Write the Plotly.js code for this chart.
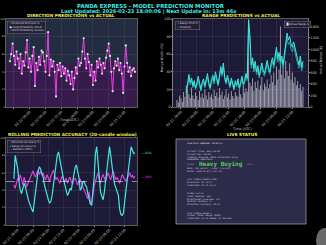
<!DOCTYPE html>
<html><head><meta charset="utf-8">
<script src="https://cdn.plot.ly/plotly-3.0.1.min.js"></script>
<style>html,body{margin:0;padding:0;background:#000;overflow:hidden}#chart{width:326px;height:245px}</style>
</head><body><div id="chart"></div>
<script>
// ---------- DATA ----------
const startTime = Date.UTC(2026,1,21,16,30);
const stepMs = 1800000;      // 30-min candles
const nPoints = 96;

const directionPct = [52,60,72,58,48,63,55,44,60,38,52,47,62,76,45,55,40,58,68,24,50,42,57,48,64,62,52,40,58,85,36,54,46,52,40,12,48,42,50,35,46,38,44,30,41,36,26,40,20,33,45,38,55,47,50,63,78,55,44,60,51,36,48,25,40,30,52,45,55,48,38,50,44,56,64,72,58,40,18,44,52,47,55,42,50,38,16,46,70,50,40,45,35,42,44,40];

const rangePredPct = [null,null,null,null,null,null,null,16,30,37,28,33,24,30,22,27,35,25,20,28,32,24,30,38,27,22,31,36,29,40,33,26,35,46,38,50,34,28,36,30,24,33,27,21,30,25,32,22,28,35,26,30,38,33,99,82,48,56,44,52,40,47,36,44,50,42,38,46,53,45,40,50,56,48,60,68,55,62,52,58,48,62,70,84,76,80,72,68,74,66,60,54,48,58,45,52];
const volatilityPct = [null,null,null,null,null,null,null,14,26,33,25,30,22,27,20,24,31,23,18,25,29,22,27,34,25,20,28,33,26,36,30,24,32,42,35,45,31,26,33,27,22,30,25,19,27,23,29,20,25,32,24,27,35,30,90,75,44,52,40,48,37,43,33,40,46,38,35,42,49,41,37,46,52,44,55,63,51,57,48,54,44,57,65,78,71,74,66,63,69,61,55,50,44,53,41,48];
const actualRangeUsd = [120,80,200,150,90,260,180,380,300,220,160,340,200,140,250,190,120,280,170,230,150,310,200,130,260,180,220,140,300,190,250,160,330,210,270,140,200,310,170,240,130,280,190,150,260,200,180,300,220,160,380,250,320,270,1520,420,360,500,280,440,330,460,300,380,520,290,410,350,480,320,400,550,430,600,380,700,480,650,1400,560,720,500,800,620,540,760,480,600,420,520,380,450,330,400,280,350];

const rangeAccPct = [53,80,72,65,50,40,36,42,48,44,36,31,26,21,18,15,28,40,55,62,67,64,59,55,46,40,33,29,25,27,34,45,62,72,80,84,75,68,58,52,46,40,34,37,42,40,50,59,66,69,62,55,40,42,49,50,46,44,36,29,24,23,40,55,82,90,72,50,38,33,29,38,52,62,78,90,80,66,56,47,42,38,34,18,12,11,14,28,40,52,66,78,90,86,82,83];
const dirAccPct = [46,42,48,54,50,58,52,46,55,50,44,48,52,56,60,62,58,55,60,63,58,62,57,60,55,52,58,54,50,56,60,63,58,52,55,50,48,53,56,52,50,54,48,52,55,50,47,52,54,50,46,50,53,48,44,40,36,32,30,38,27,23,35,45,50,56,60,52,48,55,58,54,50,56,60,55,52,58,62,56,52,55,50,48,53,58,55,52,50,54,58,60,55,57,54,56];
const randomBaseline = 50;

const pctTicks = [0,20,40,60,80,100];
const usdTicks = [0,200,400,600,800,1000,1200,1400];

const statusLines = [
 "LIVE DATA Updated: 18:01:17","","",
 "Current Price: $69,758.00",
 "Current RSI: 48.00",
 "Trading: OFFLINE (data collection only)",
 "ORDERBOOK IMBALANCE:",
 "","",
 "Bids: 101.58 BTC | Asks: 1.42 BTC",
 "Delta: +100.16 BTC (+97.2%)","","",
 "LAST CANDLE PREDICTION:",
 "Direction: UP (67%)",
 "Predicted: UP of 51.5%","","",
 "SIGNAL STATS:",
 "Total Candles: 381",
 "Directional Coverage: 471",
 "Neutral Candles: 1",
 "Direction Accuracy: 49.3%","","",
 "LAST CANDLE RESULT:",
 "Actual: $1067 Range ($69M)",
 "Predicted: 51.5% Range: OF $51,051"
];
const imbalanceLabel = "Heavy Buying";

// ---------- HELPERS ----------
const W=326,H=245;
const px = x => x/W, py = y => 1 - y/H;
function fmt(ms){const d=new Date(ms);const p=n=>String(n).padStart(2,'0');
 return d.getUTCFullYear()+'-'+p(d.getUTCMonth()+1)+'-'+p(d.getUTCDate())+' '+p(d.getUTCHours())+':'+p(d.getUTCMinutes());}
const times=[];for(let i=0;i<nPoints;i++)times.push(fmt(startTime+i*stepMs));
const endTime = startTime+(nPoints-1)*stepMs;
const hr=3600000;

const CYAN='#40e8e0', TEAL='#1fa8a0', MAG='#e83ee8', YEL='#eeee55', GRID='rgba(255,255,255,0.13)', TXT='#cccccc';
const F='DejaVu Sans', MONO='DejaVu Sans Mono';

function xAx(domain, anchor, range){
 return {domain, anchor, type:'date', range, tickformat:'%m-%d %H:%M', dtick:6*hr, tick0:'2026-02-21 18:00',
   tickangle:-45, tickfont:{size:3.4,color:TXT,family:F}, gridcolor:GRID, gridwidth:0.5, showline:true, mirror:true,
   linecolor:'#999', linewidth:0.6, ticks:'outside', ticklen:1, tickcolor:'#999', zeroline:false, automargin:false};
}
function yAx(domain, anchor, extra){
 return Object.assign({domain, anchor, range:[0,100], tickvals:pctTicks, tickfont:{size:3.4,color:TXT,family:F},
   gridcolor:GRID, gridwidth:0.5, showline:true, mirror:true, linecolor:'#999', linewidth:0.6, ticks:'outside', ticklen:1,
   tickcolor:'#999', zeroline:false, automargin:false}, extra||{});
}
const leftTickFix = {tickfont:{size:2.4,color:TXT,family:F}, ticks:'', ticklabelstandoff:0};

const dTL=[px(6),px(137)], yTop=[py(107),py(19)];
const dTR=[px(173),px(308)];
const yBot=[py(225),py(138)];

const traces=[
 {x:times,y:directionPct,xaxis:'x',yaxis:'y',type:'scatter',mode:'lines+markers',line:{color:MAG,width:1},
  marker:{color:'#c8f5c8',size:2.2,line:{width:0}},hoverinfo:'skip'},
 {x:times,y:actualRangeUsd,xaxis:'x2',yaxis:'y2',type:'bar',marker:{color:'rgba(215,215,225,0.72)',line:{width:0}},width:stepMs*0.7,hoverinfo:'skip'},
 {x:times,y:volatilityPct,xaxis:'x2',yaxis:'y3',type:'scatter',mode:'lines',line:{color:TEAL,width:1},hoverinfo:'skip'},
 {x:times,y:rangePredPct,xaxis:'x2',yaxis:'y3',type:'scatter',mode:'lines',line:{color:CYAN,width:1},hoverinfo:'skip'},
 {x:times,y:dirAccPct,xaxis:'x3',yaxis:'y4',type:'scatter',mode:'lines',line:{color:MAG,width:1.1},hoverinfo:'skip'},
 {x:times,y:rangeAccPct,xaxis:'x3',yaxis:'y4',type:'scatter',mode:'lines',line:{color:CYAN,width:1.2},hoverinfo:'skip'}
];

const ann=[];
function txt(t,x,y,size,color,opts){ann.push(Object.assign({text:t,x:px(x),y:py(y),xref:'paper',yref:'paper',showarrow:false,
 font:{size,color,family:F},xanchor:'center',yanchor:'middle'},opts||{}));}
txt('<b>PANDA EXPRESS - MODEL PREDICTION MONITOR</b>',151,6.3,5.4,CYAN);
txt('<b>Last Updated: 2026-02-23 18:00:06 | Next Update in: 13m 46s</b>',148,11.6,5,CYAN);
txt('<b>DIRECTION PREDICTIONS vs ACTUAL</b>',71,15.4,4.3,YEL);
txt('<b>RANGE PREDICTIONS vs ACTUAL</b>',241,15.4,4.3,YEL);
txt('<b>ROLLING PREDICTION ACCURACY (20-candle window)</b>',72,134.3,4.3,YEL);
txt('<b>LIVE STATUS</b>',242,134.3,4.3,YEL);
txt('Time (UTC)',69,119.5,3.4,TXT);
txt('Time (UTC)',242,129.2,3.4,TXT);
txt('Range Width (%)',162,58,3.4,TXT,{textangle:-90});
txt('Actual Range ($)',321,60,3.4,TXT,{textangle:-90});
// legends
const legOpts={xanchor:'left',yanchor:'top',align:'left',bgcolor:'rgba(35,30,55,0.85)',bordercolor:'#888',borderwidth:0.4,borderpad:1};
txt(`<span style="color:${MAG}">━</span> Predicted Direction %<br><span style="color:#c8f5c8">●</span> Long Probability (pred)<br><span style="color:#8a5ad0">━</span> Short Probability (actual)`,7,20.5,2.6,'#ddd',legOpts);
txt(`<span style="color:${CYAN}">━</span> Range Pred %<br><span style="color:${TEAL}">━</span> Volatility`,175,20.5,2.6,'#ddd',legOpts);
txt(`<span style="color:#ddd">█</span> Actual Range $`,284,20.5,2.6,'#ddd',legOpts);
txt(`<span style="color:${MAG}">━</span> Direction Accuracy %<br><span style="color:${CYAN}">━</span> Range Accuracy %<br><span style="color:#fff">- -</span> Random (50%)`,7,139.5,2.6,'#ddd',legOpts);
// end labels
txt(`— ${rangeAccPct[nPoints-1]}%`,139,153,3,CYAN,{xanchor:'left'});
txt(`— ${dirAccPct[nPoints-1]}%`,139,176.5,3,MAG,{xanchor:'left'});
// status text
statusLines.forEach((s,k)=>{ if(s) ann.push({text:s,x:px(185),y:py(143+k*2.8),xref:'paper',yref:'paper',showarrow:false,
  font:{size:2.2,color:k===0?'#eeeeee':'#d0d0d8',family:MONO},xanchor:'left',yanchor:'middle'}); });
txt(`<b>${imbalanceLabel}</b>`,221,164.3,6,'#55cc55',{font:{size:6,color:'#55cc55',family:MONO}});
txt('SIGNAL',185,164.3,2.2,'#aaa',{xanchor:'left',font:{size:2.2,color:'#9a9a9a',family:MONO}});
txt('+97%',245,164.3,2.2,'#aaa',{xanchor:'left',font:{size:2.2,color:'#9a9a9a',family:MONO}});

const shapes=[
 {type:'rect',xref:'x domain',yref:'y',x0:0,x1:1,y0:50,y1:100,fillcolor:'rgba(70,130,110,0.18)',line:{width:0},layer:'below'},
 {type:'rect',xref:'x domain',yref:'y',x0:0,x1:1,y0:0,y1:50,fillcolor:'rgba(150,30,150,0.22)',line:{width:0},layer:'below'},
 {type:'line',xref:'x3 domain',yref:'y4',x0:0,x1:1,y0:randomBaseline,y1:randomBaseline,line:{color:'rgba(255,255,255,0.7)',width:0.7,dash:'dash'}},
 {type:'rect',xref:'paper',yref:'paper',x0:px(176),x1:px(306),y0:py(224),y1:py(139),fillcolor:'#2c2b4a',line:{color:'#aaaaaa',width:0.7},layer:'below'},
 {type:'circle',xref:'paper',yref:'paper',x0:px(316),x1:px(334),y0:py(252),y1:py(228),fillcolor:'#6a6a6a',line:{width:0}}
];

const layout={
 width:W,height:H,autosize:false,margin:{l:0,r:0,t:0,b:0},paper_bgcolor:'#000',plot_bgcolor:'#1d1a38',
 showlegend:false,bargap:0.2,font:{family:F,color:TXT},
 xaxis:xAx(dTL,'y',[fmt(startTime-1.5*hr),fmt(endTime+0.75*hr)]),
 yaxis:yAx(yTop,'x',leftTickFix),
 xaxis2:xAx(dTR,'y2',[fmt(startTime-1.5*hr),fmt(endTime+1.9*hr)]),
 yaxis2:yAx(yTop,'x2',{side:'right',range:[0,1530],tickvals:usdTicks,showgrid:false}),
 yaxis3:yAx(yTop,'x2',{overlaying:'y2',side:'left'}),
 xaxis3:xAx(dTL,'y4',[fmt(startTime-3.1*hr),fmt(endTime+0.8*hr)]),
 yaxis4:yAx(yBot,'x3',leftTickFix),
 annotations:ann,shapes
};
Plotly.newPlot('chart',traces,layout,{staticPlot:true,displayModeBar:false});
</script></body></html>
